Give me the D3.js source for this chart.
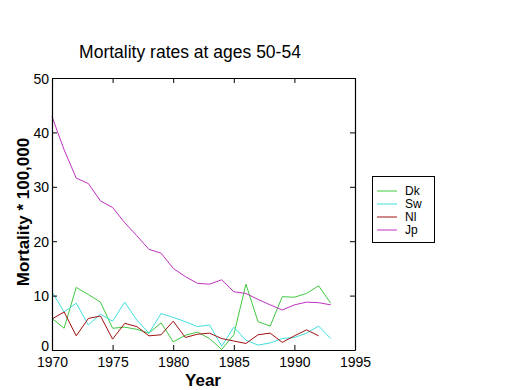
<!DOCTYPE html>
<html><head><meta charset="utf-8">
<script src="https://cdn.jsdelivr.net/npm/d3@7"></script>
<style>body{margin:0;background:#fff}</style>
</head><body>
<script>
const years = d3.range(1970, 1994);
const dk = [5.8,4.0,11.5,10.2,8.8,4.0,4.2,3.8,3.1,5.0,1.5,2.7,3.3,2.1,0.1,2.8,12.1,5.2,4.4,9.8,9.7,10.4,11.8,8.6];
const sw = [10.7,7.0,8.6,4.6,6.6,5.3,8.8,5.5,3.1,6.7,6.0,5.2,4.3,4.6,0.7,4.2,1.8,0.9,1.3,2.1,2.3,3.1,4.4,2.1];
const nl = [5.7,7.0,2.6,5.8,6.25,2.0,4.9,4.3,2.6,2.8,5.3,2.3,2.9,3.1,2.1,1.65,1.2,2.8,3.1,1.4,2.6,3.7,2.6];
const jp = [42.9,36.8,31.6,30.6,27.4,26.2,23.4,21.0,18.5,17.8,15.0,13.5,12.25,12.1,12.9,10.7,10.4,9.3,8.3,7.35,8.3,8.8,8.7,8.3];
const seriesNames = ["Dk","Sw","Nl","Jp"];
const seriesValues = [dk, sw, nl, jp];
const colors = ["#3ec83e","#40dede","#a01010","#c030c0"];
const xTicks = [1970,1975,1980,1985,1990,1995];
const yTicks = [0,10,20,30,40,50];
const title = "Mortality rates at ages 50-54";

const W = 520, H = 390;
const narrow = "'Liberation Sans Narrow','Arial Narrow','Liberation Sans',Arial,sans-serif";
const sans = "'Liberation Sans',Arial,sans-serif";
const svg = d3.select("body").append("svg").attr("width",W).attr("height",H)
  .style("font-family",narrow);
const x = d3.scaleLinear().domain([1970,1995]).range([52,355]);
const y = d3.scaleLinear().domain([0,50]).range([350,78]);

svg.append("rect").attr("width",W).attr("height",H).attr("fill","#fff");

// lines
const line = d3.line().x((d,i)=>x(years[i])).y(d=>y(d));
seriesValues.forEach((vals,k)=>{
  svg.append("path").datum(vals).attr("d",line)
    .attr("fill","none").attr("stroke",colors[k]).attr("stroke-width",1);
});

// axes with inward ticks
const tickFont = "14px";
const gB = svg.append("g").attr("transform","translate(0,350)")
  .call(d3.axisBottom(x).tickValues(xTicks).tickFormat(d3.format("d")).tickSizeInner(-5).tickSizeOuter(0).tickPadding(6));
const gT = svg.append("g").attr("transform","translate(0,78)")
  .call(d3.axisTop(x).tickValues(xTicks).tickFormat("").tickSizeInner(-5).tickSizeOuter(0));
const gL = svg.append("g").attr("transform","translate(52,0)")
  .call(d3.axisLeft(y).tickValues(yTicks).tickSizeInner(-5).tickSizeOuter(0).tickPadding(4));
const gR = svg.append("g").attr("transform","translate(355,0)")
  .call(d3.axisRight(y).tickValues(yTicks).tickFormat("").tickSizeInner(-5).tickSizeOuter(0));
[gB,gT,gL,gR].forEach(g=>{
  g.select(".domain").attr("stroke","#000").attr("stroke-width",1.2);
  g.selectAll(".tick line").attr("stroke","#000");
  g.selectAll("text").attr("fill","#000").style("font-size",tickFont).style("font-family",narrow);
});
gB.selectAll("text").attr("dy","0.75em");
gL.selectAll("text").attr("x",-3).attr("dy",d=> d===0 ? "0.05em" : "0.36em");

// title and labels
svg.append("text").attr("x",190).attr("y",58).attr("text-anchor","middle")
  .style("font-family",sans).style("font-size","17.5px").text(title);
svg.append("text").attr("x",203).attr("y",386).attr("text-anchor","middle")
  .style("font-family",sans).style("font-size","17px").style("font-weight","bold").text("Year");
svg.append("text").attr("transform","translate(29,212) rotate(-90)").attr("text-anchor","middle")
  .style("font-family",sans).style("font-size","17px").style("font-weight","bold").text("Mortality * 100,000");

// legend
const lg = svg.append("g");
lg.append("rect").attr("x",372.5).attr("y",176.5).attr("width",62).attr("height",66)
  .attr("fill","#fff").attr("stroke","#000");
seriesNames.forEach((n,i)=>{
  const yy = 191 + i*13;
  lg.append("line").attr("x1",377).attr("x2",397).attr("y1",yy).attr("y2",yy).attr("stroke",colors[i]);
  lg.append("text").attr("x",405).attr("y",yy).attr("dy","0.36em")
    .style("font-family",sans).style("font-size","12px").text(n);
});
</script>
</body></html>
